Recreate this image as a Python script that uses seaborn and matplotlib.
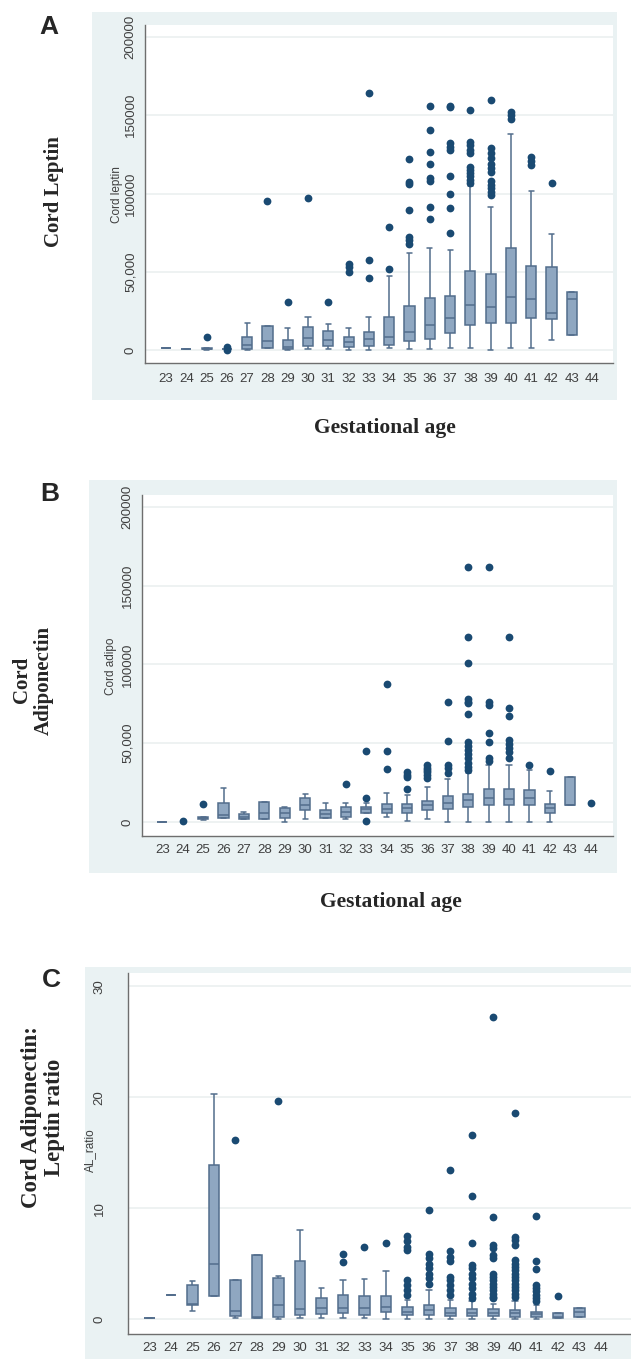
import numpy as np
import pandas as pd
import matplotlib
matplotlib.use("Agg")
import matplotlib.pyplot as plt
from matplotlib.patches import Rectangle
import seaborn as sns

W, H = 631, 1359
nan = np.nan

ages = [str(a) for a in range(23, 45)]

# ---- A: cord leptin (box stats per gestational age 23..44) ----
leptin_lo  = [1000, 600, 300, 600, 0, 1500, 0, 600, 400, 0, 0, 1000, 500, 500, 1000, 1000, 0, 1500, 1500, 6400, 9600, nan]
leptin_q1  = [1000, 600, 500, 600, 500, 1500, 800, 2600, 2600, 2100, 2600, 3000, 6000, 7000, 10700, 15800, 17000, 17500, 20700, 20000, 9600, nan]
leptin_med = [1000, 600, 800, 600, 3500, 6000, 2100, 7900, 6400, 5300, 6800, 8000, 11700, 16000, 20700, 29000, 27700, 34000, 32600, 23400, 32400, nan]
leptin_q3  = [1000, 600, 1200, 600, 8000, 15500, 6400, 14900, 12400, 8500, 11700, 21000, 28000, 33500, 34500, 50700, 48400, 65000, 54000, 53000, 37000, nan]
leptin_hi  = [1000, 600, 1500, 600, 17000, 15500, 13800, 21300, 16600, 13800, 21300, 47000, 62000, 65000, 64000, 104500, 91700, 138000, 101700, 74000, 37000, nan]
leptin_out = {
    "25": [8300],
    "26": [0, 1800],
    "28": [95000],
    "29": [30500],
    "30": [97000],
    "31": [30500],
    "32": [49600, 52800, 54700],
    "33": [45800, 57500, 164000],
    "34": [52000, 78400],
    "35": [68000, 70000, 72000, 89500, 106000, 107500, 122000],
    "36": [83800, 91600, 108000, 110000, 119000, 126700, 140600, 156000],
    "37": [74600, 90600, 100000, 111000, 128000, 130000, 132000, 155000, 156000],
    "38": [106600, 108700, 111000, 113000, 115000, 117000, 126000, 128000, 131000, 133000, 153500],
    "39": [99000, 101000, 103400, 105500, 107700, 114000, 116000, 119000, 122600, 125800, 129000, 160000],
    "40": [147500, 150000, 152000],
    "41": [118000, 121000, 123600],
    "42": [107000],
}

# ---- B: cord adiponectin ----
adipo_lo  = [200, nan, 1500, 2300, 1900, 1900, 0, 1900, 2300, 1900, 5500, 3400, 800, 1700, 200, 200, 200, 200, 200, 200, 10800, nan]
adipo_q1  = [200, nan, 2000, 2300, 1900, 1900, 2300, 7600, 2300, 3400, 5500, 5500, 5900, 7600, 8000, 9700, 11000, 10800, 10800, 5500, 10800, nan]
adipo_med = [200, nan, 2500, 4400, 3400, 5500, 5500, 10800, 5100, 6100, 8000, 8000, 8700, 10800, 12300, 14000, 15400, 14400, 15400, 8700, 10800, nan]
adipo_q3  = [200, nan, 3000, 12300, 4900, 12900, 8700, 15000, 7600, 9700, 9300, 11400, 11400, 13300, 16500, 17800, 20700, 20700, 20300, 11400, 28800, nan]
adipo_hi  = [200, nan, 3200, 21400, 6600, 12900, 9300, 17800, 11900, 12300, 11900, 18200, 17000, 22400, 27000, 30900, 36200, 36200, 33000, 19700, 28800, nan]
adipo_out = {
    "24": [400],
    "25": [11200],
    "32": [23900],
    "33": [600, 15400, 45000],
    "34": [33400, 45300, 87600],
    "35": [21200, 28400, 29800, 32000],
    "36": [28000, 30000, 31500, 33000, 34500, 36000],
    "37": [31300, 34000, 36200, 51600, 76400],
    "38": [33000, 35100, 37200, 40400, 43200, 45700, 48300, 51000, 68400, 75300, 76400, 78000, 100700, 117700, 162000],
    "39": [38900, 40400, 51000, 56300, 74300, 76400, 162000],
    "40": [40800, 44200, 46800, 49500, 52000, 67300, 72200, 117700],
    "41": [36200],
    "42": [32600],
    "44": [12300],
}

# ---- C: adiponectin:leptin ratio ----
ratio_lo  = [0.1, 2.2, 0.75, 2.1, 0.1, 0.05, 0.0, 0.1, 0.1, 0.1, 0.1, 0.0, 0.0, 0.0, 0.0, 0.0, 0.0, 0.0, 0.0, 0.06, 0.2, nan]
ratio_q1  = [0.1, 2.2, 1.3, 2.1, 0.3, 0.05, 0.2, 0.35, 0.45, 0.5, 0.35, 0.6, 0.36, 0.36, 0.27, 0.27, 0.27, 0.2, 0.2, 0.06, 0.2, nan]
ratio_med = [0.1, 2.2, 1.4, 5.0, 0.75, 0.2, 1.3, 0.9, 1.0, 1.0, 1.0, 1.1, 0.66, 0.8, 0.57, 0.57, 0.57, 0.5, 0.45, 0.2, 0.66, nan]
ratio_q3  = [0.1, 2.2, 3.1, 13.9, 3.5, 5.8, 3.7, 5.2, 1.9, 2.2, 2.1, 2.1, 1.1, 1.3, 1.0, 0.87, 0.87, 0.8, 0.66, 0.5, 1.0, nan]
ratio_hi  = [0.1, 2.2, 3.4, 20.3, 3.5, 5.8, 3.9, 8.0, 2.8, 3.5, 3.6, 4.3, 1.7, 2.6, 1.7, 1.6, 1.4, 1.6, 1.3, 0.5, 1.0, nan]
ratio_out = {
    "27": [16.1],
    "29": [19.7],
    "32": [5.1, 5.9],
    "33": [6.5],
    "34": [6.9],
    "35": [2.2, 2.6, 3.1, 3.5, 6.2, 6.5, 7.0, 7.5],
    "36": [3.2, 3.7, 4.1, 4.6, 5.0, 5.5, 5.9, 9.85],
    "37": [2.2, 2.6, 3.1, 3.5, 3.8, 5.2, 5.6, 6.1, 13.4],
    "38": [1.9, 2.3, 2.8, 3.2, 3.7, 4.1, 4.6, 4.9, 6.9, 11.1, 16.6],
    "39": [1.9, 2.0, 2.3, 2.6, 2.9, 3.2, 3.5, 3.8, 4.1, 5.5, 5.8, 6.4, 6.7, 9.2, 27.2],
    "40": [2.0, 2.3, 2.6, 2.9, 3.2, 3.5, 3.8, 4.1, 4.4, 4.7, 5.0, 5.3, 6.7, 7.1, 7.4, 18.6],
    "41": [1.6, 1.9, 2.2, 2.5, 2.8, 3.1, 4.5, 5.2, 9.3],
    "42": [2.1],
}

BG = "#EAF2F3"
BOX_FILL = "#8FA7C1"
BOX_EDGE = "#526D8C"
DOT = "#1A4A72"
AXIS = "#6E6E6E"
TXT = "#3F3F3F"


def px(x, y):
    return x / W, 1 - y / H


def rect(x0, y0, x1, y1):
    return [x0 / W, 1 - y1 / H, (x1 - x0) / W, (y1 - y0) / H]


def box_frame(lo, q1, med, q3, hi):
    # five values per age -> quartiles land exactly on q1/med/q3, whiskers on lo/hi
    rows = []
    for age, vals in zip(ages, zip(lo, q1, med, q3, hi)):
        if np.isnan(vals[0]):
            continue
        for v in vals:
            rows.append((age, v))
    return pd.DataFrame(rows, columns=["age", "value"])


def out_frame(outs):
    rows = [(age, v) for age, vals in outs.items() for v in vals]
    return pd.DataFrame(rows, columns=["age", "value"])


def draw_panel(fig, ax_px, bg_px, stats, outs, xlim, ylim, yticks, ylabels, tick_len, tick_pad, xpad):
    x0, y0, x1, y1 = bg_px
    fig.add_artist(Rectangle((x0 / W, 1 - y1 / H), (x1 - x0) / W, (y1 - y0) / H,
                             transform=fig.transFigure, facecolor=BG, edgecolor="none", zorder=-5))
    ax = fig.add_axes(rect(*ax_px))
    ax.set_facecolor("white")
    sns.boxplot(data=box_frame(*stats), x="age", y="value", order=ages, whis=(0, 100),
                showfliers=False, width=0.5, color=BOX_FILL, linecolor=BOX_EDGE,
                linewidth=1.1, saturation=1, ax=ax)
    sns.stripplot(data=out_frame(outs), x="age", y="value", order=ages, jitter=False,
                  size=5.6, color=DOT, linewidth=0, ax=ax, zorder=4)
    ax.set_xlim(*xlim)
    ax.set_ylim(*ylim)
    ax.set_yticks(yticks)
    ax.set_yticklabels(ylabels, rotation=90, va="center")
    ax.set_xlabel("")
    ax.set_ylabel("")
    ax.yaxis.grid(True, color="#E9EFEF", linewidth=1.1)
    ax.xaxis.grid(False)
    ax.set_axisbelow(True)
    for s in ["top", "right"]:
        ax.spines[s].set_visible(False)
    for s in ["left", "bottom"]:
        ax.spines[s].set_color(AXIS)
        ax.spines[s].set_linewidth(1.0)
    ax.tick_params(axis="y", length=tick_len, width=0.8, color=AXIS, labelsize=9.5,
                   labelcolor=TXT, pad=tick_pad)
    ax.tick_params(axis="x", length=0, labelsize=9.5, labelcolor=TXT, pad=xpad)
    return ax


sns.set_style("white")
plt.rcParams["font.family"] = ["Liberation Sans", "DejaVu Sans"]

fig = plt.figure(figsize=(W / 100, H / 100), dpi=100)
fig.patch.set_facecolor("white")

big_ticks = [0, 50000, 100000, 150000, 200000]
big_labels = ["0", "50,000", "100000", "150000", "200000"]

draw_panel(fig, (145, 25, 613, 363), (92, 12, 617, 400),
           (leptin_lo, leptin_q1, leptin_med, leptin_q3, leptin_hi), leptin_out,
           (-1.035, 22.03), (-8300, 207700), big_ticks, big_labels, 4, 2, 7)
draw_panel(fig, (142, 495, 613, 836), (89, 480, 617, 873),
           (adipo_lo, adipo_q1, adipo_med, adipo_q3, adipo_hi), adipo_out,
           (-1.0, 22.1), (-8900, 207600), big_ticks, big_labels, 4, 2, 6)
draw_panel(fig, (128, 973, 631, 1334), (85, 967, 631, 1359),
           (ratio_lo, ratio_q1, ratio_med, ratio_q3, ratio_hi), ratio_out,
           (-1.0, 22.4), (-1.35, 31.2), [0, 10, 20, 30], ["0", "10", "20", "30"], 6, 10, 6)

serif = dict(family=["Liberation Serif", "DejaVu Serif"], fontweight="bold",
             ha="center", va="center")
letter = dict(fontsize=19, fontweight="bold", ha="center", va="center")
small = dict(fontsize=8.5, color=TXT, rotation=90, ha="center", va="center")

fig.text(*px(49, 27), "A", **letter)
fig.text(*px(50, 494), "B", **letter)
fig.text(*px(51, 980), "C", **letter)

fig.text(*px(54, 192), "Cord Leptin", rotation=90, fontsize=15, **serif)
fig.text(*px(33, 680), "Cord\nAdiponectin", rotation=90, multialignment="center",
         linespacing=1.15, fontsize=15, **serif)
fig.text(*px(43, 1117), "Cord Adiponectin:\nLeptin ratio", rotation=90,
         multialignment="center", linespacing=1.1, fontsize=16.5, **serif)

fig.text(*px(385, 428), "Gestational age", fontsize=15.5, **serif)
fig.text(*px(391, 902), "Gestational age", fontsize=15.5, **serif)

fig.text(*px(117, 195), "Cord leptin", **small)
fig.text(*px(111, 666), "Cord adipo", **small)
fig.text(*px(90, 1150), "AL_ratio", **small)

fig.savefig("out.png", dpi=100, facecolor="white")
